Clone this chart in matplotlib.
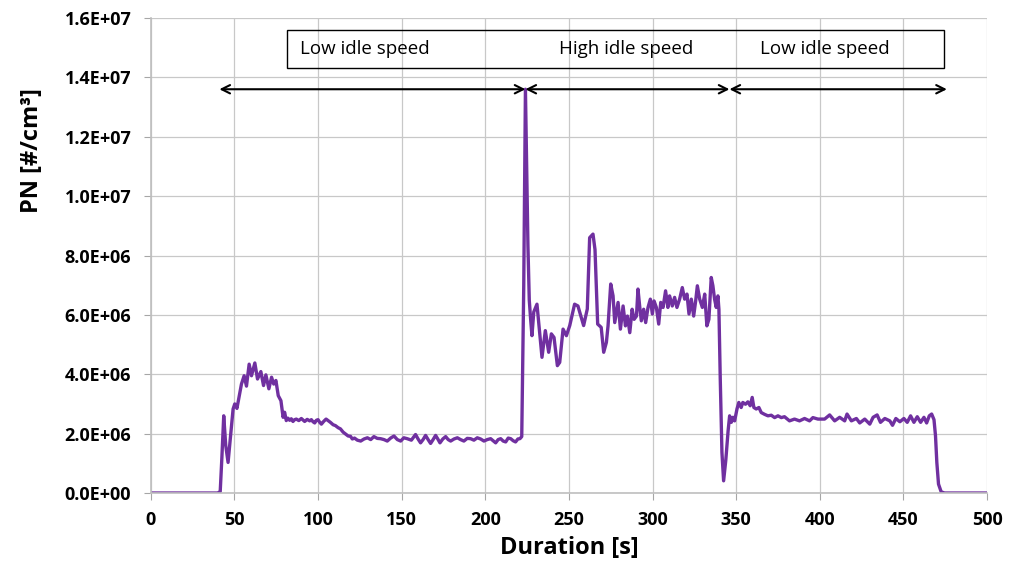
import numpy as np
import matplotlib.pyplot as plt

# PN concentration (time in s, PN in 1e6 #/cm3)
t_s = np.array([
    0, 40, 41.5, 42.5, 43.6, 44.8, 46.2, 47.5, 49.2, 50.2, 51.5, 53, 54.2, 55.8, 57.2,
    58.8, 60.2, 62.2, 63.8, 65.8, 67.4, 68.8, 70.6, 72.2, 73.5, 74.8, 76.2, 77.8, 79.1,
    80, 81, 82, 83, 84, 85, 86, 87, 88.5, 90, 91, 92, 93.5, 95, 96, 97, 98, 99, 100,
    101, 102, 103.5, 104.8, 106, 107.4, 109, 110.4, 112, 113.4, 115, 116.4, 118, 119.4,
    120.5, 121.8,
    123.5, 125.5, 127.5, 129.5, 131.5, 133.4, 135.4, 137.4, 139.4, 141.4, 143.4, 145.4,
    147.4, 149.4, 151.3, 153.3, 155.8, 158.3, 159.8, 161.3, 162.8, 164.3, 165.8, 167.3,
    168.8, 170.3, 171.6, 172.9, 174.6, 176.3, 177.8, 179.3, 181.3, 183.3, 185.2, 187.2,
    189.2, 191.2, 193.2, 195.2, 197.2, 199.2, 201.2, 203.2, 204.7, 206.2, 207.7, 209.2,
    210.7, 212.2, 213.7, 215.2, 216.7, 218.1, 219.5, 220.7, 221.8,
    223, 224, 225.5, 226.3, 227.1, 227.9, 229, 230.9, 232.5, 233.9, 235.9, 237.9, 239.5,
    241.1, 243.1, 244.5, 246.5, 248.5, 250.5, 253.4, 255.4, 258.8, 261, 262.4, 264.4,
    265.6, 267.2, 269.3, 270.8, 272.4, 273.4, 275, 276.4, 277.4, 278.4, 279.4, 280.8,
    282.4, 283.8, 285, 286.4, 287.8, 289, 290.4, 291.3, 292.3, 293.3, 294.7, 295.9,
    297.3, 298.7, 299.9, 300.9, 302.3, 303.7, 304.9, 306.3, 307.8, 309.2, 310.2, 311.8,
    313.2, 314.6, 316.2, 317.8, 319.2, 320.6, 321.8, 323.2, 324.6, 325.8, 326.8, 328.2,
    329.8, 331.2, 332.5, 333.7, 335.1, 336.1, 337.1, 338.1, 339.1, 339.7,
    340.5, 341.5, 342.5, 343.8, 345.2, 346.1, 347.1, 348.1, 349.1, 350.5, 351.6, 353,
    354, 355.6, 357, 358.4, 359.6, 360.6, 362, 363.6, 365, 367, 369, 371, 373, 375, 377,
    378.9, 381.9, 384.9, 387.9, 390.9, 393.9, 395.9, 398.9, 402.9, 405.9, 408.9, 411.9,
    414.9, 416.3, 418.9, 421.9, 423.9, 426.9, 429.9, 431.9, 434.3, 436.3, 438.9, 441.9,
    443.5, 445.5, 447.9, 450.3, 452.3, 454.3, 456.3, 458.3, 460.3, 462.3, 463.9, 465.5,
    466.9, 468.3, 469.2, 470, 471, 472.6, 474.6, 500,
])
pn_e6 = np.array([
    0, 0, 0.05, 1.2, 2.6, 1.6, 1.03, 1.8, 2.83, 3.0, 2.85, 3.3, 3.67, 3.95, 3.6,
    4.34, 3.95, 4.38, 3.84, 4.09, 3.62, 3.98, 3.51, 3.9, 3.67, 3.79, 3.28, 3.11, 2.55,
    2.72, 2.44, 2.52, 2.45, 2.5, 2.41, 2.47, 2.49, 2.44, 2.51, 2.46, 2.41, 2.48, 2.43,
    2.47, 2.4, 2.36, 2.45, 2.47, 2.38, 2.32, 2.42, 2.49, 2.44, 2.38, 2.3, 2.27, 2.2,
    2.16, 2.05, 1.99, 1.92, 1.91, 1.82, 1.85,
    1.78, 1.75, 1.82, 1.86, 1.8, 1.9, 1.84, 1.83, 1.8, 1.75, 1.85, 1.92, 1.8, 1.75,
    1.86, 1.83, 1.78, 1.97, 1.82, 1.69, 1.8, 1.94, 1.8, 1.67, 1.8, 1.94, 1.82, 1.69,
    1.82, 1.9, 1.8, 1.75, 1.82, 1.86, 1.8, 1.75, 1.84, 1.83, 1.78, 1.86, 1.82, 1.75,
    1.8, 1.83, 1.76, 1.69, 1.8, 1.83, 1.75, 1.72, 1.85, 1.83, 1.76, 1.72, 1.82, 1.83,
    1.9,
    7.0, 13.6, 8.33, 6.5, 5.86, 5.3, 6.1, 6.36, 5.4, 4.57, 5.47, 4.74, 5.36, 5.24, 4.29,
    4.4, 5.52, 5.3, 5.64, 6.36, 6.3, 5.64, 6.2, 8.6, 8.72, 8.2, 5.69, 5.58, 4.74, 5.07,
    5.63, 7.04, 6.64, 5.74, 6.08, 6.42, 5.52, 6.3, 5.63, 5.96, 5.4, 6.19, 5.85, 5.96,
    6.87, 6.3, 5.8, 6.19, 5.74, 6.25, 6.53, 6.03, 6.47, 6.25, 5.69, 6.42, 6.25, 6.81,
    6.25, 6.64, 6.3, 6.59, 6.25, 6.53, 6.92, 6.53, 6.7, 6.03, 6.53, 5.96, 6.47, 6.98,
    6.53, 6.25, 6.7, 5.63, 5.85, 7.26, 6.98, 6.53, 6.25, 6.64, 6.19,
    3.84, 1.37, 0.41, 1.1, 2.1, 2.6, 2.38, 2.55, 2.43, 2.83, 3.05, 2.88, 3.05, 2.99,
    3.07, 2.94, 3.22, 2.88, 2.83, 2.88, 2.71, 2.65, 2.6, 2.62, 2.54, 2.6, 2.54, 2.57,
    2.43, 2.49, 2.43, 2.51, 2.43, 2.54, 2.49, 2.49, 2.63, 2.43, 2.55, 2.43, 2.66, 2.43,
    2.51, 2.36, 2.49, 2.32, 2.55, 2.63, 2.38, 2.51, 2.43, 2.28, 2.51, 2.4, 2.51, 2.38,
    2.6, 2.38, 2.57, 2.38, 2.55, 2.36, 2.6, 2.66, 2.47, 1.93, 1.03, 0.3, 0.04, 0, 0,
])

phase_labels = ['Low idle speed', 'High idle speed', 'Low idle speed']
phase_label_x = [128, 284.4, 403.3]
phase_bounds = [41, 224, 346, 476]

plt.rcParams['font.family'] = ['Open Sans', 'DejaVu Sans']

fig = plt.figure(figsize=(10.19, 5.73), dpi=100)
ax = fig.add_axes([0.148, 0.1396, 0.8206, 0.829])

ax.plot(t_s, pn_e6 * 1e6, color='#7030A0', lw=2.4)

ax.set_xlim(0, 500)
ax.set_ylim(0, 1.6e7)
ax.set_xticks(np.arange(0, 501, 50))
ax.set_yticks(np.arange(0, 1.61e7, 2e6))
ax.yaxis.set_major_formatter(plt.FuncFormatter(lambda v, p: '%.1E' % v))
ax.grid(True, color='#c8c8c8', lw=0.9)
ax.set_axisbelow(True)
for s in ['top', 'right']:
    ax.spines[s].set_visible(False)
for s in ['left', 'bottom']:
    ax.spines[s].set_color('#bfbfbf')
    ax.spines[s].set_linewidth(1.2)
ax.tick_params(axis='both', colors='#a6a6a6', labelcolor='black', labelsize=13,
               length=5)
ax.tick_params(axis='y', pad=9)
ax.tick_params(axis='x', pad=8)
for lab in ax.get_xticklabels() + ax.get_yticklabels():
    lab.set_fontweight('bold')

ax.set_xlabel('Duration [s]', fontsize=17, fontweight='bold', labelpad=5)
ax.set_ylabel('PN [#/cm³]', fontsize=17, fontweight='bold')
ax.yaxis.set_label_coords(-0.128, 0.72)

# phase box and arrows
box = plt.Rectangle((81.5, 14.3e6), 393, 1.3e6, fill=False, ec='black', lw=1.0,
                    clip_on=False)
ax.add_patch(box)
for x, lab in zip(phase_label_x, phase_labels):
    ax.text(x, 14.95e6, lab, ha='center', va='center', fontsize=13.5)
for a, b in zip(phase_bounds[:-1], phase_bounds[1:]):
    ax.annotate('', xy=(b, 13.6e6), xytext=(a, 13.6e6),
                arrowprops=dict(arrowstyle='<->', color='black', lw=1.5,
                                shrinkA=0, shrinkB=0, mutation_scale=15))

fig.savefig('out.png', dpi=100)
